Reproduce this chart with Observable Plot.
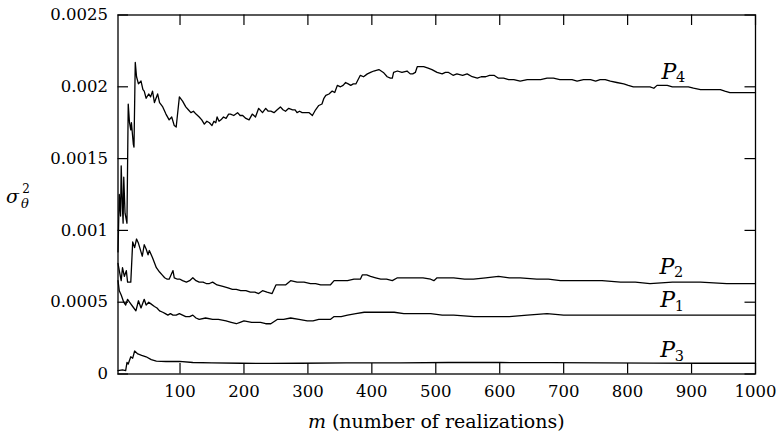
<!DOCTYPE html>
<html><head><meta charset="utf-8">
<script src="https://cdn.jsdelivr.net/npm/d3@7"></script>
<script src="https://cdn.jsdelivr.net/npm/@observablehq/plot@0.6"></script>
<style>html,body{margin:0;padding:0;background:#fff}</style>
</head><body><div id="chart"></div>
<script>
// tick values and labels
const xTicks = [100, 200, 300, 400, 500, 600, 700, 800, 900, 1000];
const yTicks = [0, 0.0005, 0.001, 0.0015, 0.002, 0.0025];
const yTickLabels = ["0", "0.0005", "0.001", "0.0015", "0.002", "0.0025"];

// series: [m, sigma^2]
const P4 = [[3,0.00085],[5,0.00125],[7,0.0011],[8,0.00145],[10,0.00115],[11,0.00105],[12,0.00137],[14,0.00112],[17,0.00105],[19,0.00188],[21,0.00175],[23,0.0017],[24,0.00175],[27,0.0016],[28,0.00158],[30,0.00217],[32,0.00207],[35,0.00202],[39,0.00204],[42,0.00198],[44,0.00197],[47,0.00192],[51,0.00195],[54,0.00193],[57,0.00197],[60,0.00189],[65,0.00195],[68,0.00189],[73,0.00186],[78,0.00181],[83,0.00177],[87,0.00179],[91,0.00173],[94,0.00172],[99,0.00193],[104,0.0019],[109,0.00186],[113,0.00184],[117,0.00182],[121,0.00183],[125,0.00181],[130,0.00179],[134,0.00177],[138,0.00174],[142,0.00176],[146,0.00175],[150,0.00173],[153,0.00176],[156,0.00175],[158,0.00179],[161,0.00176],[164,0.00177],[168,0.00179],[172,0.00178],[176,0.00181],[179,0.00181],[184,0.00180],[190,0.00182],[194,0.00180],[198,0.0018],[203,0.00178],[208,0.00177],[213,0.00181],[218,0.00179],[223,0.00185],[229,0.00182],[234,0.00185],[238,0.00183],[242,0.00183],[247,0.00182],[252,0.00184],[257,0.00186],[261,0.00184],[265,0.00183],[270,0.00185],[276,0.00184],[280,0.00184],[283,0.00182],[287,0.00183],[291,0.00182],[296,0.00182],[302,0.00182],[307,0.0018],[312,0.00184],[317,0.00187],[322,0.00188],[325,0.00192],[328,0.00194],[333,0.00195],[338,0.00197],[342,0.00196],[346,0.00201],[351,0.002],[355,0.00201],[359,0.00203],[363,0.00202],[367,0.00201],[371,0.00202],[375,0.00202],[382,0.00208],[387,0.00207],[393,0.00209],[398,0.0021],[403,0.00211],[411,0.00212],[418,0.0021],[424,0.00207],[429,0.00206],[432,0.00206],[434,0.0021],[440,0.00211],[447,0.0021],[455,0.00211],[460,0.00209],[464,0.00209],[468,0.00210],[471,0.00214],[481,0.00214],[488,0.00213],[494,0.00212],[502,0.00210],[510,0.00209],[515,0.00210],[520,0.0021],[527,0.00208],[533,0.00209],[542,0.00208],[549,0.00209],[557,0.00207],[565,0.00206],[571,0.00207],[578,0.00207],[584,0.00208],[591,0.00208],[598,0.00206],[606,0.00206],[614,0.00205],[622,0.00205],[632,0.00204],[643,0.00205],[652,0.00205],[664,0.00205],[674,0.00206],[684,0.00206],[694,0.00205],[705,0.00205],[713,0.00205],[721,0.00204],[731,0.00205],[742,0.00205],[750,0.00204],[757,0.00205],[765,0.00205],[773,0.00204],[783,0.00203],[794,0.00202],[801,0.00201],[809,0.002],[818,0.002],[828,0.002],[835,0.00200],[841,0.00199],[846,0.00201],[854,0.00201],[862,0.00201],[870,0.00200],[877,0.002],[887,0.002],[895,0.00200],[903,0.00199],[914,0.00198],[924,0.00198],[935,0.00198],[945,0.00198],[952,0.00197],[960,0.00196],[970,0.00196],[981,0.00196],[990,0.00196],[1000,0.00196]];

const P2 = [[3,0.00077],[5,0.00072],[8,0.00065],[10,0.00074],[13,0.00068],[16,0.00072],[18,0.00064],[23,0.00064],[26,0.00092],[29,0.00088],[32,0.00094],[35,0.00091],[37,0.00088],[41,0.00082],[44,0.0009],[47,0.00087],[50,0.00083],[52,0.00086],[57,0.00081],[63,0.00074],[68,0.00071],[72,0.00069],[76,0.00067],[80,0.00066],[83,0.00066],[89,0.00072],[91,0.00067],[96,0.00066],[100,0.00066],[104,0.00065],[110,0.00064],[115,0.00065],[120,0.00067],[125,0.00065],[130,0.00064],[136,0.00064],[141,0.00063],[146,0.00063],[151,0.00064],[158,0.00062],[167,0.00061],[175,0.0006],[182,0.00059],[188,0.00059],[195,0.00058],[203,0.00058],[210,0.00057],[217,0.00057],[223,0.00056],[229,0.00058],[236,0.00057],[244,0.00056],[250,0.00062],[258,0.00062],[265,0.00062],[273,0.00065],[283,0.00064],[294,0.00064],[304,0.00063],[312,0.00063],[320,0.00062],[328,0.00062],[335,0.00062],[341,0.00065],[350,0.00065],[362,0.00065],[372,0.00066],[382,0.00066],[385,0.00069],[392,0.00069],[398,0.00068],[406,0.00067],[414,0.00066],[423,0.00066],[432,0.00065],[440,0.00067],[452,0.00067],[466,0.00067],[480,0.00067],[492,0.00066],[497,0.00065],[502,0.00067],[515,0.00067],[528,0.00067],[545,0.00066],[559,0.00066],[578,0.00067],[598,0.00068],[615,0.00067],[632,0.00067],[658,0.00066],[676,0.00066],[695,0.00065],[712,0.00065],[731,0.00065],[760,0.00065],[789,0.00064],[812,0.00064],[835,0.00063],[870,0.00064],[914,0.00064],[955,0.00063],[1000,0.00063]];

const P1 = [[3,0.00065],[5,0.00058],[8,0.00055],[12,0.0005],[15,0.00048],[18,0.00052],[21,0.0005],[26,0.00047],[31,0.00044],[35,0.00051],[39,0.00046],[44,0.00052],[47,0.00048],[51,0.0005],[54,0.00049],[60,0.00047],[64,0.00046],[68,0.00044],[73,0.00043],[77,0.00042],[81,0.00041],[85,0.00042],[89,0.00041],[94,0.00041],[99,0.00042],[104,0.00041],[109,0.0004],[115,0.0004],[120,0.00041],[125,0.00039],[130,0.00038],[140,0.00039],[151,0.00038],[160,0.00038],[172,0.00037],[180,0.00036],[188,0.00035],[194,0.00036],[200,0.00037],[212,0.00036],[226,0.00036],[234,0.00035],[242,0.00035],[252,0.00038],[262,0.00038],[273,0.00039],[286,0.00038],[299,0.00037],[308,0.00037],[317,0.00038],[326,0.00038],[335,0.00038],[341,0.0004],[352,0.0004],[362,0.00041],[375,0.00042],[388,0.00043],[408,0.00043],[420,0.00043],[435,0.00043],[450,0.00042],[466,0.00042],[492,0.00042],[510,0.00041],[528,0.00041],[560,0.0004],[591,0.0004],[615,0.0004],[643,0.00041],[674,0.00042],[700,0.00041],[726,0.00041],[760,0.00041],[789,0.00041],[850,0.00041],[914,0.00041],[1000,0.00041]];

const P3 = [[3,0.000024],[10,0.000029],[15,0.000024],[17,0.00008],[19,0.00007],[23,0.00012],[26,0.00011],[29,0.00016],[34,0.00014],[40,0.00013],[47,0.00012],[55,0.0001],[63,0.00009],[78,0.000087],[99,0.000088],[120,0.00008],[150,0.000078],[195,0.000075],[240,0.000074],[289,0.000075],[360,0.000077],[445,0.000078],[520,0.00008],[601,0.00008],[680,0.000079],[757,0.000078],[840,0.000076],[914,0.000075],[1000,0.000075]];

// curve labels
const labelNames = ["P", "P", "P", "P"];
const labelSubs = ["4", "2", "1", "3"];
const labelM = [853, 850, 851, 851];
const labelV = [0.002056, 0.000698, 0.000465, 0.000117];

const labels = labelNames.map((n, i) => ({name: n, sub: labelSubs[i], m: labelM[i], v: labelV[i]}));
const toRows = arr => arr.map(([m, v]) => ({m, v}));

const FONT = "'DejaVu Serif', serif";
const W = 780, H = 442;
const mL = 117.5, mR = 25, mT = 14.5, mB = 68.5;
const innerW = W - mL - mR, innerH = H - mT - mB;
const tick = 10.5;

const chart = Plot.plot({
  width: W, height: H,
  marginLeft: mL, marginRight: mR, marginTop: mT, marginBottom: mB,
  style: {fontFamily: FONT, fontSize: "16.5px", background: "#fff", color: "#000"},
  x: {domain: [3, 1000]},
  y: {domain: [0, 0.0025]},
  marks: [
    Plot.axisX({ticks: xTicks, tickSize: 0, tickPadding: 11.5, label: null, fontFamily: FONT, fontSize: 16.5, tickFormat: d => String(d)}),
    Plot.axisY({ticks: yTicks, tickSize: 0, tickPadding: 10, label: null, fontFamily: FONT, fontSize: 16.5, tickFormat: d => yTickLabels[yTicks.indexOf(d)]}),
    Plot.tickX(xTicks, {x: d => d, insetTop: innerH - tick, stroke: "#000", strokeWidth: 1.2}),
    Plot.tickX(xTicks, {x: d => d, insetBottom: innerH - tick, stroke: "#000", strokeWidth: 1.2}),
    Plot.tickY(yTicks, {y: d => d, insetRight: innerW - tick, stroke: "#000", strokeWidth: 1.2}),
    Plot.tickY(yTicks, {y: d => d, insetLeft: innerW - tick, stroke: "#000", strokeWidth: 1.2}),
    Plot.line(toRows(P4), {x: "m", y: "v", stroke: "#000", strokeWidth: 1.3}),
    Plot.line(toRows(P2), {x: "m", y: "v", stroke: "#000", strokeWidth: 1.3}),
    Plot.line(toRows(P1), {x: "m", y: "v", stroke: "#000", strokeWidth: 1.3}),
    Plot.line(toRows(P3), {x: "m", y: "v", stroke: "#000", strokeWidth: 1.3}),
    Plot.text(labels, {x: "m", y: "v", text: "name", textAnchor: "start", lineAnchor: "bottom", fontFamily: FONT, fontStyle: "italic", fontSize: 22, fill: "#000"}),
    Plot.text(labels, {x: "m", y: "v", text: "sub", textAnchor: "start", lineAnchor: "bottom", fontFamily: FONT, fontSize: 14.5, dx: 14.5, dy: 3.5, fill: "#000"}),
    Plot.frame({stroke: "#000", strokeWidth: 1.3})
  ]
});

const svg = d3.select(chart);
// y-axis label sigma_theta^2
const yl = svg.append("g").attr("fill", "#000").attr("font-family", FONT);
yl.append("text").attr("x", 12.5).attr("y", 203).attr("font-size", 19).attr("font-style", "italic").text("σ");
yl.append("text").attr("x", 25).attr("y", 208).attr("font-size", 13).attr("font-style", "italic").text("θ");
yl.append("text").attr("x", 26).attr("y", 193).attr("font-size", 12).text("2");
// x-axis label
const xl = svg.append("text").attr("x", mL + innerW / 2).attr("y", 428).attr("text-anchor", "middle")
  .attr("fill", "#000").attr("font-family", FONT).attr("font-size", 19);
xl.append("tspan").attr("font-style", "italic").text("m");
xl.append("tspan").text(" (number of realizations)");

document.getElementById("chart").appendChild(chart);
</script>
</body></html>
